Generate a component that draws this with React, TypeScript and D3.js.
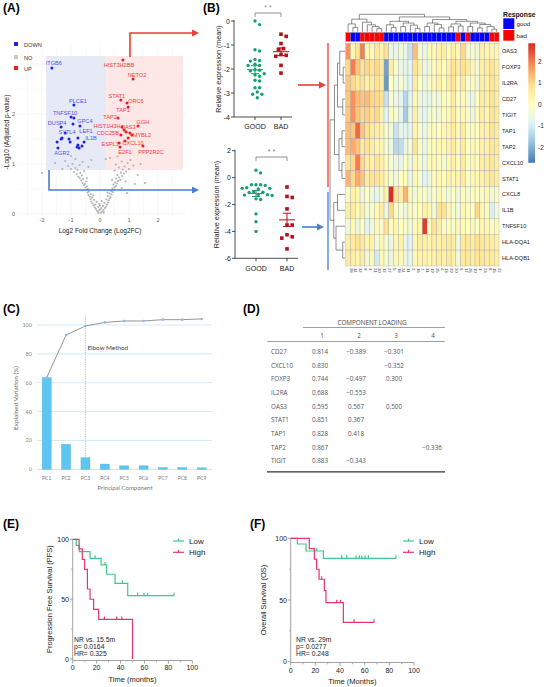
import React from "react";
import * as d3 from "d3";

const SANS = "'Liberation Sans', Arial, Helvetica, sans-serif";
const OPEN = "'Open Sans', 'Liberation Sans', sans-serif";
const LATO = "Lato, 'Open Sans', sans-serif";

// ---------------- (A) volcano plot data ----------------
const downGenes = ["ITGB6", "PLCE1", "TNFSF10", "GPC4", "DUSP4", "SYTL4", "LEF1", "IL1B", "AGR2"];
const downFC = [-1.66, -0.9, -1.0, -0.9, -1.34, -0.93, -0.69, -0.55, -1.45];
const downP = [2.92, 2.18, 1.94, 1.92, 1.74, 1.8, 1.76, 1.44, 1.32];
const downOtherFC = [-1.48, -1.34, -1.31, -1.07, -1.03, -0.76, -0.72, -0.62, -0.76, -0.79, -1.2];
const downOtherP = [1.44, 1.5, 1.52, 1.5, 1.44, 1.38, 1.32, 1.36, 1.52, 1.34, 1.62];

const upGenes = ["HIST3H2BB", "NETO2", "STAT1", "ORC6", "TAP1", "TAP2", "HIST1H3H", "GGH", "OAS3", "MYBL2", "CDC25B", "CXCL10", "ESPL1", "E2F1", "PPP2R2C"];
const upFC = [0.79, 1.14, 0.72, 0.93, 0.97, 0.62, 0.76, 1.31, 0.9, 1.1, 0.72, 0.97, 0.66, 0.69, 1.48];
const upP = [3.08, 2.7, 2.28, 2.22, 2.14, 1.92, 1.74, 1.76, 1.64, 1.58, 1.58, 1.52, 1.42, 1.34, 1.36];
const upOtherFC = [0.83, 1.03, 0.86];
const upOtherP = [1.68, 1.62, 1.46];

const noPoints: [number, number][] = [
  [-0.05, 0.02], [0.03, 0.03], [0.08, 0.05], [-0.1, 0.06], [0.12, 0.08], [-0.14, 0.1], [0.02, 0.1], [0.17, 0.12],
  [-0.18, 0.13], [-0.06, 0.14], [0.2, 0.15], [0.1, 0.16], [-0.22, 0.17], [0.24, 0.19], [-0.02, 0.2], [-0.26, 0.21],
  [0.15, 0.22], [0.28, 0.23], [-0.12, 0.24], [-0.3, 0.25], [0.06, 0.26], [0.3, 0.27], [-0.2, 0.28], [0.22, 0.29],
  [-0.33, 0.3], [0.34, 0.31], [-0.08, 0.05], [0.05, 0.12], [-0.03, 0.08], [0.0, 0.17], [0.13, 0.03], [-0.16, 0.19],
  [-0.28, 0.33], [0.36, 0.34], [-0.36, 0.35], [0.27, 0.36], [-0.4, 0.38], [0.4, 0.39], [-0.32, 0.4], [0.33, 0.41],
  [-0.43, 0.43], [0.44, 0.44], [-0.38, 0.45], [0.38, 0.46], [-0.47, 0.48], [0.48, 0.49], [-0.42, 0.5], [0.43, 0.51],
  [-0.5, 0.53], [0.5, 0.54], [-0.45, 0.55], [0.55, 0.56], [-0.55, 0.58], [0.46, 0.59], [-0.24, 0.37], [0.26, 0.43],
  [-0.52, 0.6], [0.58, 0.61], [-0.6, 0.62], [0.52, 0.63], [-0.48, 0.65], [0.62, 0.66], [-0.65, 0.67], [0.7, 0.68],
  [-0.58, 0.7], [0.56, 0.71], [-0.7, 0.72], [0.66, 0.73], [-0.75, 0.75], [0.76, 0.76], [-0.62, 0.77], [0.6, 0.78],
  [-0.8, 0.8], [0.82, 0.81], [-0.68, 0.82], [0.72, 0.83], [-0.9, 0.84], [0.9, 0.85], [-0.55, 0.86], [0.5, 0.87],
  [-0.78, 0.88], [0.78, 0.89], [-1.0, 0.9], [1.0, 0.9], [-0.85, 0.92], [0.65, 0.93], [-0.4, 0.94], [0.85, 0.95],
  [-1.1, 0.96], [1.15, 0.97], [-0.7, 0.98], [0.55, 0.99], [-0.95, 1.0], [0.95, 1.02], [-0.6, 1.04], [0.75, 1.05],
  [-1.2, 1.06], [1.05, 1.08], [-0.85, 1.1], [0.35, 1.12], [-0.3, 1.08], [0.6, 1.15], [-1.0, 1.16], [0.2, 1.1],
  [-2.0, 0.82], [1.2, 0.6], [1.55, 0.62], [0.93, 0.42], [0.75, 0.52], [-1.3, 0.9], [1.3, 0.78], [-0.45, 0.72],
  [0.42, 0.68], [-1.55, 1.02], [1.4, 1.0], [0.88, 0.65],
];

const labelNudge: Record<string, [number, number]> = {
  ITGB6: [2, -5], PLCE1: [4, -4], TNFSF10: [-6, -4], GPC4: [11, 3], DUSP4: [-4, -4], SYTL4: [-6, 8],
  LEF1: [6, 5], IL1B: [7, -4], AGR2: [4, 5], HIST3H2BB: [-4, 5], NETO2: [4, -4], STAT1: [-4, -4],
  ORC6: [9, -2], TAP1: [-5, 3], TAP2: [-8, -1], HIST1H3H: [-15, -1], GGH: [5, -4], OAS3: [2, -5],
  MYBL2: [10, 0], CDC25B: [-13, -2], CXCL10: [5, 5], ESPL1: [-9, 1], E2F1: [5, 5], PPP2R2C: [8, 6],
};

// ---------------- (B) dot plots ----------------
const groups = ["GOOD", "BAD"];
const upGoodValues = [0.0, -0.15, -1.2, -1.25, -1.65, -1.6, -1.67, -1.85, -1.8, -1.85, -2.05, -2.03, -2.08, -2.25, -2.2, -2.3, -2.47, -2.5, -2.78, -2.78, -2.96, -3.05, -3.05, -3.2];
const upBadValues = [-0.55, -0.64, -0.94, -1.15, -1.19, -1.4, -1.43, -1.47, -1.85, -2.17];
const downGoodValues = [0.55, 0.35, -0.53, -0.53, -0.58, -0.53, -0.8, -0.8, -0.85, -0.75, -1.08, -1.1, -1.05, -1.28, -1.33, -1.3, -1.25, -1.58, -1.63, -2.7, -3.28, -4.0];
const downBadValues = [-0.7, -1.4, -1.48, -2.33, -3.53, -3.53, -4.25, -4.5, -4.4, -5.3];

// ---------------- heatmap ----------------
const heatGenes = ["OAS3", "FOXP3", "IL2RA", "CD27", "TIGIT", "TAP1", "TAP2", "CXCL10", "STAT1", "CXCL8", "IL1B", "TNFSF10", "HLA-DQA1", "HLA-DQB1"];
const sampleIds = ["28", "14", "32", "9", "3", "21", "30", "12", "27", "5", "18", "24", "11", "2", "16", "7", "31", "19", "25", "4", "13", "29", "20", "6", "17", "26", "10", "1", "23", "8", "15", "22"];
const sampleResponse = ["bad", "good", "good", "bad", "bad", "bad", "bad", "bad",
  "good", "good", "good", "good", "good", "good", "good", "good",
  "good", "good", "good", "good", "good", "good", "good", "bad",
  "good", "bad", "good", "good", "good", "good", "bad", "bad"];
const heatValues = [
  [1.8, 0.3, 0.8, 2.0, 0.2, 0.2, 0.7, 0.3, 0.9, -0.6, -0.7, -0.4, -0.6, -1.2, 1.3, -0.3, -0.6, 0.1, 0.2, 0.4, 0.5, 0.1, 0.4, 0.2, 1.0, -0.4, -0.2, -0.5, 0.4, 0.2, 0.3, 0.2],
  [1.0, 2.0, 1.2, 0.8, 1.0, 0.8, 1.0, 0.6, -2.2, 0.5, -0.2, -0.6, -0.8, -0.7, 0.8, 0.4, -0.6, -0.4, 0.1, 0.3, 0.1, 0.4, 0.8, 0.6, 0.9, 0.6, 0.2, -0.4, 0.5, 0.5, 0.8, 0.5],
  [1.2, 1.0, 0.6, 0.8, 0.4, 0.5, 0.9, 0.5, -2.3, 0.0, -0.5, -0.3, -0.6, -0.9, 0.5, 0.0, -0.5, -0.2, 0.2, 0.4, 0.1, 0.5, 0.8, 0.2, 0.6, -0.3, 0.1, -0.5, 0.5, 0.4, 0.8, 0.6],
  [1.2, 1.8, 1.3, 1.2, 1.3, 1.0, 1.0, 0.8, -1.2, -0.3, -0.6, -0.8, -1.4, -0.8, 0.2, -0.5, -0.6, -0.7, -0.3, -0.5, 0.1, 0.1, 0.5, -0.1, 0.2, -0.4, -0.6, 0.0, 0.5, 0.4, 0.8, 0.5],
  [1.2, 1.8, 1.2, 1.0, 1.1, 0.9, 1.0, 0.3, -0.8, -0.2, -0.2, -0.7, -1.6, -0.6, 0.4, -0.5, -0.8, -0.3, -0.2, -0.4, 0.1, 0.2, 0.5, 0.1, 0.2, -0.2, -0.5, 0.1, 0.5, 0.3, 0.8, 0.6],
  [1.3, 1.2, 2.2, 1.2, 0.9, 0.6, 0.5, 0.3, -0.2, -0.4, -1.2, -0.7, -0.8, -0.7, 0.3, -0.3, -0.6, -0.2, 0.1, 0.0, 0.2, 0.3, 0.5, 0.2, 0.6, -0.2, 0.1, -0.1, 0.4, 0.4, 0.8, 0.5],
  [1.3, 1.5, 1.2, 0.6, 0.8, 0.5, 0.3, 0.2, -0.3, -0.5, -1.4, -1.3, -0.6, -0.3, 0.8, -0.2, -0.6, -0.1, 0.1, 0.2, 0.2, 0.4, 0.5, 0.2, 0.6, 0.0, 0.2, 0.1, 0.4, 0.4, 0.7, 0.6],
  [0.8, 1.0, 2.0, 1.0, 0.5, 0.4, 0.8, 0.4, 0.1, -0.3, -0.6, -0.7, 0.0, -0.5, 0.2, -0.2, -0.6, 0.1, 0.2, 0.1, -0.4, 0.2, 0.4, 0.1, 0.6, -0.1, 0.2, 0.0, 0.5, 0.5, 0.7, 0.5],
  [1.4, 1.0, 1.5, 1.2, 0.5, 0.8, 0.8, 0.5, 0.2, -0.2, -0.5, 0.0, 0.1, -0.6, 0.2, -0.3, -0.9, -0.5, 0.1, 0.2, 0.1, 0.4, 0.2, 0.3, 0.6, -0.1, 0.2, 0.2, 0.4, 0.5, 0.7, 0.5],
  [-0.2, 0.4, 0.3, -0.5, 0.0, -0.6, -0.7, -0.3, 0.4, 2.8, 0.8, 0.5, 1.4, 0.1, -0.4, 0.1, -0.2, -0.5, -0.1, 0.2, -0.2, -0.4, 0.0, -0.5, 0.1, -0.4, 0.1, 0.0, -0.2, 0.2, -0.5, -0.2],
  [0.5, 0.6, 0.2, 0.4, -0.4, -0.2, 0.2, 0.5, -0.6, 1.0, -0.2, -0.3, -0.5, 0.1, -0.2, 0.1, 0.4, 0.2, -0.4, 0.9, 0.9, 0.2, -0.2, -0.4, 0.2, 0.1, 0.0, 1.0, 0.2, 0.1, -1.0, -0.5],
  [-0.4, 0.2, -0.6, 0.0, -0.8, -0.5, 0.2, -0.3, 0.9, 0.1, 0.3, 0.0, -0.2, -0.4, 0.1, 0.3, 2.6, -0.1, 0.8, 0.5, -0.2, 0.1, -0.2, 0.2, 0.1, 0.0, 0.2, -0.2, 0.3, 0.2, -0.2, 0.1],
  [0.5, 0.6, 0.8, 0.6, 0.3, 0.4, -0.4, 0.2, -0.2, -0.6, 0.3, 0.4, -0.7, -0.9, 0.2, 0.5, 0.4, 0.3, 0.5, 0.4, 0.5, 0.6, 0.5, -0.5, 0.6, 0.7, 0.5, 0.8, 0.7, 0.6, 0.5, 0.4],
  [0.6, 0.5, 0.3, 0.5, -0.5, 0.2, -1.1, 0.2, -0.2, -0.6, 0.2, 0.2, -0.6, -0.7, 0.2, 0.4, 0.4, 0.2, 0.4, 0.5, 0.4, 0.6, 0.4, -0.4, 0.6, 0.7, 0.5, 0.7, 0.7, 0.6, 0.6, 0.5],
];
type Tree = number | [number, Tree, Tree];
const sampleTree: Tree = [1.0,
  [0.72, [0.45, 0, [0.25, 1, 2]], [0.55, 3, [0.4, 4, [0.3, 5, [0.18, 6, 7]]]]],
  [0.85,
    [0.6, [0.4, 8, [0.25, 9, 10]], [0.5, [0.3, 11, 12], [0.38, 13, [0.2, 14, 15]]]],
    [0.7, [0.5, [0.3, 16, 17], [0.42, 18, [0.22, 19, 20]]],
      [0.6, [0.45, [0.28, 21, 22], [0.33, 23, 24]], [0.5, [0.3, 25, 26], [0.42, [0.22, 27, 28], [0.3, 29, [0.15, 30, 31]]]]]]]];
const geneTree: Tree = [1.0,
  [0.7, [0.5, [0.35, 0, [0.12, 1, 2]], [0.15, 3, 4]], [0.4, [0.2, 5, 6], [0.2, 7, 8]]],
  [0.75, [0.5, 9, 10], [0.6, 11, [0.15, 12, 13]]]];
const legendTicks = [2, 1, 0, -1, -2];

// ---------------- (C) scree plot ----------------
const pcLabels = ["PC1", "PC2", "PC3", "PC4", "PC5", "PC6", "PC7", "PC8", "PC9"];
const pcVariance = [63.5, 17.3, 8.0, 3.6, 2.4, 2.4, 1.2, 1.2, 1.0];
const pcCumulative = [63.5, 93.1, 99.3, 101.8, 102.8, 102.8, 103.7, 103.7, 104.2];
const pcTicks = [0, 20, 40, 60, 80, 100];

// ---------------- (D) loadings ----------------
const loadingGenes = ["CD27", "CXCL10", "FOXP3", "IL2RA", "OAS3", "STAT1", "TAP1", "TAP2", "TIGIT"];
const loading1 = ["0.814", "0.830", "0.744", "0.688", "0.595", "0.851", "0.828", "0.867", "0.883"];
const loading2 = ["\u22120.389", "", "\u22120.497", "\u22120.553", "0.567", "0.367", "0.418", "", "\u22120.343"];
const loading3 = ["\u22120.301", "\u22120.352", "0.300", "", "0.500", "", "", "", ""];
const loading4 = ["", "", "", "", "", "", "", "\u22120.336", ""];

// ---------------- (E)/(F) survival ----------------
const pfsLow: [number, number][] = [[0, 100], [3, 95], [5.5, 89.7], [14.5, 84.1], [23.7, 78.6], [28.4, 70.8], [35.4, 63.2], [46, 52.9]];
const pfsLowEnd = 84.7;
const pfsLowCensor = [18.7, 27, 41.5, 54.3, 59.6, 62.7];
const pfsHigh: [number, number][] = [[0, 100], [5.3, 92], [8, 83.3], [10, 74.9], [12.3, 58.5], [14.5, 49.9], [17.5, 41.5], [21.7, 33.1], [50, 0]];
const pfsHighEnd = 50;
const pfsHighCensor = [26.5, 36.8, 41];
const osLow: [number, number][] = [[0, 100], [5.4, 95.4], [12.4, 89.7], [26.5, 83.8]];
const osLowEnd = 85.4;
const osLowCensor = [21.1, 41.4, 45.4, 53, 55.7, 57.6, 60.3, 63];
const osHigh: [number, number][] = [[0, 100], [15.1, 91.6], [19.2, 83.2], [21, 74.9], [23, 66.8], [27.3, 57.6], [28.6, 47.8], [42.7, 31.9]];
const osHighEnd = 67.6;
const osHighCensor = [25.1, 37.3, 40.5, 51.4];
const timeTicks = [0, 20, 40, 60, 80, 100];
const survTicks = [0, 50, 100];

// ---------------- helpers ----------------
const BLUE = "#2222e6";
const RED = "#ee1c1c";
const GREEN_DOT = "#16a06c";
const BAD_RED = "#b3131b";
const LOW_C = "#3cc98b";
const HIGH_C = "#e8366c";

function dodge(values: number[], y: (v: number) => number, d: number): number[] {
  const placed: { x: number; y: number }[] = [];
  const order = values.map((_, i) => i).sort((a, b) => values[b] - values[a]);
  const out = new Array(values.length).fill(0);
  for (const i of order) {
    const py = y(values[i]);
    let best = 0;
    for (let k = 0; k < 60; k++) {
      const cand = k === 0 ? 0 : (k % 2 ? 1 : -1) * Math.ceil(k / 2) * d * 0.5;
      if (placed.every((p) => (p.x - cand) ** 2 + (p.y - py) ** 2 >= d * d)) { best = cand; break; }
    }
    placed.push({ x: best, y: py });
    out[i] = best;
  }
  return out;
}

function Arrow({ pts, color }: { pts: [number, number][]; color: string }) {
  const last = pts[pts.length - 1];
  const prev = pts[pts.length - 2];
  const ang = Math.atan2(last[1] - prev[1], last[0] - prev[0]);
  const L = 7, W = 3.5;
  const bx = last[0] - L * Math.cos(ang), by = last[1] - L * Math.sin(ang);
  const head = [
    [last[0], last[1]],
    [bx - W * Math.sin(ang), by + W * Math.cos(ang)],
    [bx + W * Math.sin(ang), by - W * Math.cos(ang)],
  ];
  const line = pts.slice(0, -1).concat([[bx, by]]);
  return (
    <g>
      <polyline points={line.map((p) => p.join(",")).join(" ")} fill="none" stroke={color} strokeWidth={1.6} />
      <polygon points={head.map((p) => p.join(",")).join(" ")} fill={color} />
    </g>
  );
}

// ---------------- (A) ----------------
function Volcano() {
  const x = d3.scaleLinear().domain([-3, 3]).range([13, 187]);
  const y = d3.scaleLinear().domain([0, 3]).range([214, 64]);
  const gridY = d3.range(0, 3.01, 0.5);
  const gridX = d3.range(-2.5, 2.51, 0.5);
  return (
    <g fontFamily={SANS}>
      <text x={3} y={12} fontSize={12} fontWeight="bold">(A)</text>
      {gridX.map((v) => (
        <line key={"gx" + v} x1={x(v)} x2={x(v)} y1={46} y2={216} stroke={Number.isInteger(v) ? "#ececec" : "#f5f5f5"} strokeWidth={0.6} />
      ))}
      {gridY.map((v) => (
        <line key={"gy" + v} x1={17} x2={186} y1={y(v)} y2={y(v)} stroke={Number.isInteger(v) ? "#ececec" : "#f5f5f5"} strokeWidth={0.6} />
      ))}
      <rect x={x(-1.86)} y={56} width={x(0.21) - x(-1.86)} height={114} fill="#e3e8f6" opacity={0.9} />
      <rect x={x(0.21)} y={56} width={x(2.86) - x(0.21)} height={114} fill="#fde4e4" opacity={0.9} />
      {noPoints.map(([f, p], i) => (
        <circle key={"n" + i} cx={x(f)} cy={y(p)} r={1.1} fill="#b4b4b4" />
      ))}
      {downOtherFC.map((f, i) => (
        <circle key={"do" + i} cx={x(f)} cy={y(downOtherP[i])} r={1.5} fill={BLUE} />
      ))}
      {upOtherFC.map((f, i) => (
        <circle key={"uo" + i} cx={x(f)} cy={y(upOtherP[i])} r={1.5} fill={RED} />
      ))}
      {downGenes.map((g, i) => (
        <g key={g}>
          <circle cx={x(downFC[i])} cy={y(downP[i])} r={1.5} fill={BLUE} />
          <text x={x(downFC[i]) + labelNudge[g][0]} y={y(downP[i]) + labelNudge[g][1] + 2} fontSize={5.6} fill="#5050ee" textAnchor="middle">{g}</text>
        </g>
      ))}
      {upGenes.map((g, i) => (
        <g key={g}>
          <circle cx={x(upFC[i])} cy={y(upP[i])} r={1.5} fill={RED} />
          <text x={x(upFC[i]) + labelNudge[g][0]} y={y(upP[i]) + labelNudge[g][1] + 2} fontSize={5.6} fill="#f03c3c" textAnchor="middle">{g}</text>
        </g>
      ))}
      {[0, 1, 2].map((v) => (
        <text key={"yt" + v} x={15} y={y(v) + 2} fontSize={5.5} fill="#555" textAnchor="end">{v}</text>
      ))}
      {[-2, -1, 0, 1, 2].map((v) => (
        <text key={"xt" + v} x={x(v)} y={222} fontSize={5.5} fill="#555" textAnchor="middle">{v}</text>
      ))}
      <text x={100} y={233} fontSize={6.5} fill="#222" textAnchor="middle">Log2 Fold Change (Log2FC)</text>
      <text transform="translate(8.5,132) rotate(-90)" fontSize={6.5} fill="#222" textAnchor="middle">-Log10 (Adjusted p-value)</text>
      {/* legend */}
      <rect x={14} y={42} width={4} height={4} fill={BLUE} />
      <text x={24} y={46.5} fontSize={5.6} fill="#333">DOWN</text>
      <rect x={14} y={55} width={4} height={4} fill="#c8c8c8" />
      <text x={24} y={59.5} fontSize={5.6} fill="#333">NO</text>
      <rect x={14} y={66} width={4} height={4} fill={RED} />
      <text x={24} y={70.5} fontSize={5.6} fill="#333">UP</text>
      <Arrow pts={[[130, 57], [130, 33], [199, 33]]} color="#ee3b3b" />
      <Arrow pts={[[49, 170], [49, 190], [199, 190]]} color="#4a7fd4" />
    </g>
  );
}

// ---------------- (B) dot plots ----------------
function DotPlot({ good, bad, domain, ticks, top, bottom, left, right, bracketY, labelY, titleX }: {
  good: number[]; bad: number[]; domain: [number, number]; ticks: number[];
  top: number; bottom: number; left: number; right: number; bracketY: number; labelY: number; titleX: number;
}) {
  const y = d3.scaleLinear().domain(domain).range([bottom, top]);
  const xb = d3.scalePoint().domain(groups).range([left + 21, right - 11]);
  const gx = xb("GOOD")!, bx = xb("BAD")!;
  const gOff = dodge(good, y, 4.6);
  const bOff = dodge(bad, y, 5.2);
  const stat = (a: number[]) => {
    const m = d3.mean(a)!;
    const se = d3.deviation(a)! / Math.sqrt(a.length);
    return [m, se];
  };
  const [gm, gse] = stat(good);
  const [bm, bse] = stat(bad);
  return (
    <g fontFamily={SANS}>
      <line x1={left} x2={left} y1={y(domain[1]) - 1} y2={bottom} stroke="#222" strokeWidth={0.8} />
      <line x1={left} x2={right} y1={bottom} y2={bottom} stroke="#222" strokeWidth={0.8} />
      {ticks.map((t) => (
        <g key={t}>
          <line x1={left - 3} x2={left} y1={y(t)} y2={y(t)} stroke="#222" strokeWidth={0.8} />
          <text x={left - 4} y={y(t) + 2.5} fontSize={7} textAnchor="end" fill="#222">{t}</text>
        </g>
      ))}
      {groups.map((g) => (
        <g key={g}>
          <line x1={xb(g)!} x2={xb(g)!} y1={bottom} y2={bottom + 3} stroke="#222" strokeWidth={0.8} />
          <text x={xb(g)!} y={labelY} fontSize={7} textAnchor="middle" fill="#222">{g}</text>
        </g>
      ))}
      <text transform={`translate(${titleX},${(top + bottom) / 2}) rotate(-90)`} fontSize={7.2} textAnchor="middle" fill="#222">Relative expression (mean)</text>
      <path d={`M${gx},${bracketY + 4}V${bracketY}H${bx}V${bracketY + 4}`} fill="none" stroke="#777" strokeWidth={0.8} />
      <text x={(gx + bx) / 2} y={bracketY - 3} fontSize={7} textAnchor="middle" fill="#888">* *</text>
      {good.map((v, i) => (
        <circle key={"g" + i} cx={gx + gOff[i]} cy={y(v)} r={1.7} fill={GREEN_DOT} />
      ))}
      {bad.map((v, i) => (
        <rect key={"b" + i} x={bx + bOff[i] - 1.8} y={y(v) - 1.8} width={3.6} height={3.6} fill={BAD_RED} />
      ))}
      {[[gx, gm, gse, GREEN_DOT], [bx, bm, bse, BAD_RED]].map(([cx, m, se, c], i) => (
        <g key={"m" + i} stroke={c as string} strokeWidth={1}>
          <line x1={(cx as number) - 8} x2={(cx as number) + 8} y1={y(m as number)} y2={y(m as number)} />
          <line x1={cx as number} x2={cx as number} y1={y((m as number) + (se as number))} y2={y((m as number) - (se as number))} />
          <line x1={(cx as number) - 4} x2={(cx as number) + 4} y1={y((m as number) + (se as number))} y2={y((m as number) + (se as number))} />
          <line x1={(cx as number) - 4} x2={(cx as number) + 4} y1={y((m as number) - (se as number))} y2={y((m as number) - (se as number))} />
        </g>
      ))}
    </g>
  );
}

// ---------------- heatmap ----------------
function dendroSegments(t: Tree, pos: (i: number) => number, hmap: (h: number) => number) {
  const segs: [number, number, number, number][] = [];
  const walk = (n: Tree): { p: number; h: number } => {
    if (typeof n === "number") return { p: pos(n), h: 0 };
    const a = walk(n[1]);
    const b = walk(n[2]);
    segs.push([a.p, hmap(a.h), a.p, hmap(n[0])]);
    segs.push([b.p, hmap(b.h), b.p, hmap(n[0])]);
    segs.push([a.p, hmap(n[0]), b.p, hmap(n[0])]);
    return { p: (a.p + b.p) / 2, h: n[0] };
  };
  walk(t);
  return segs;
}

function Heatmap() {
  const x0 = 345.7, x1 = 499, y0 = 43.3, y1 = 266;
  const nC = sampleIds.length, nR = heatGenes.length;
  const xs = d3.scaleBand<number>().domain(d3.range(nC)).range([x0, x1]);
  const ys = d3.scaleBand<number>().domain(d3.range(nR)).range([y0, y1]);
  const pal = ["#4575b4", "#91bfdb", "#e0f3f8", "#ffffbf", "#fee090", "#fc8d59", "#d73027"];
  const color = d3.scaleLinear<string>().domain(d3.range(7).map((i) => -2.75 + i * (5.5 / 6))).range(pal).clamp(true);
  const colSegs = dendroSegments(sampleTree, (i) => xs(i)! + xs.bandwidth() / 2, (h) => 31.8 - h * 17.5);
  const rowSegs = dendroSegments(geneTree, (i) => ys(i)! + ys.bandwidth() / 2, (h) => 345 - h * 15);
  const lgY = d3.scaleLinear().domain([0, 1]).range([104.3, 82.8]);
  const stops = d3.range(0, 1.001, 0.05);
  const vTop = 2.84, vBot = -2.72;
  return (
    <g fontFamily={SANS}>
      <defs>
        <linearGradient id="hmLegend" x1="0" y1="0" x2="0" y2="1">
          {stops.map((s) => (
            <stop key={s} offset={s} stopColor={color(vTop + (vBot - vTop) * s)} />
          ))}
        </linearGradient>
      </defs>
      {colSegs.map((s, i) => (
        <line key={"cs" + i} x1={s[0]} y1={s[1]} x2={s[2]} y2={s[3]} stroke="#444" strokeWidth={0.6} />
      ))}
      {rowSegs.map((s, i) => (
        <line key={"rs" + i} x1={s[1]} y1={s[0]} x2={s[3]} y2={s[2]} stroke="#444" strokeWidth={0.6} />
      ))}
      {sampleResponse.map((r, j) => (
        <rect key={"an" + j} x={xs(j)!} y={32.5} width={xs.bandwidth()} height={9} fill={r === "good" ? "#0000ff" : "#ff0000"} stroke="#999" strokeWidth={0.3} />
      ))}
      {heatValues.map((row, i) =>
        row.map((v, j) => (
          <rect key={i + "-" + j} x={xs(j)!} y={ys(i)!} width={xs.bandwidth()} height={ys.bandwidth()} fill={color(v)} stroke="#a0a0a0" strokeWidth={0.35} />
        ))
      )}
      {heatGenes.map((g, i) => (
        <text key={g} x={502} y={ys(i)! + ys.bandwidth() / 2 + 2} fontSize={5.6} fill="#222">{g}</text>
      ))}
      {sampleIds.map((s, j) => (
        <text key={"sl" + j} transform={`translate(${xs(j)! + xs.bandwidth() / 2 + 1.5},268) rotate(90)`} fontSize={4.2} fill="#333">{s}</text>
      ))}
      <text x={503} y={16.5} fontSize={6.8} fontWeight="bold" fill="#111">Response</text>
      <rect x={503.3} y={18.3} width={11} height={10.7} fill="#0000ff" />
      <text x={516.5} y={26} fontSize={6.2} fill="#222">good</text>
      <rect x={503.3} y={30} width={11} height={10.7} fill="#ff0000" />
      <text x={516.5} y={37.5} fontSize={6.2} fill="#222">bad</text>
      <rect x={528.3} y={lgY(vTop)} width={6.7} height={lgY(vBot) - lgY(vTop)} fill="url(#hmLegend)" />
      {legendTicks.map((t) => (
        <text key={"lt" + t} x={538} y={lgY(t) + 2.3} fontSize={6.5} fill="#222">{t}</text>
      ))}
      {/* links from the dot plots */}
      <line x1={328} x2={328} y1={43} y2={187} stroke="#ee3b3b" strokeWidth={1.3} />
      <line x1={328} x2={328} y1={192} y2={270} stroke="#4a7fd4" strokeWidth={1.3} />
      <Arrow pts={[[298, 85], [326, 85]]} color="#ee3b3b" />
      <Arrow pts={[[302, 227], [324, 227]]} color="#4a7fd4" />
    </g>
  );
}

// ---------------- (C) ----------------
function Scree() {
  const x = d3.scalePoint().domain(pcLabels).range([46.7, 201.7]);
  const y = d3.scaleLinear().domain([0, 100]).range([469.3, 325]);
  const line = d3.line<number>().x((_, i) => x(pcLabels[i])!).y((d) => y(d));
  return (
    <g>
      <text x={3} y={313} fontSize={12} fontWeight="bold" fontFamily={SANS}>(C)</text>
      <g fontFamily={LATO}>
        {pcTicks.filter((t) => t > 0).map((t) => (
          <line key={"g" + t} x1={37} x2={212} y1={y(t)} y2={y(t)} stroke="#cde9f6" strokeWidth={0.9} />
        ))}
        <line x1={37} x2={212} y1={y(0)} y2={y(0)} stroke="#d9d9d9" strokeWidth={0.9} />
        {pcTicks.map((t) => (
          <text key={"t" + t} x={32} y={y(t) + 2} fontSize={5.5} fill="#888" textAnchor="end">{t}</text>
        ))}
        {pcVariance.map((v, i) => (
          <rect key={"b" + i} x={x(pcLabels[i])! - 4.5} y={y(v)} width={9} height={y(0) - y(v)} fill="#5cc5f0" stroke="#4ab3e3" strokeWidth={0.4} />
        ))}
        <line x1={x("PC3")!} x2={x("PC3")!} y1={316} y2={y(0)} stroke="#72c2e8" strokeWidth={0.8} strokeDasharray="1.2,1.2" />
        <text x={87.5} y={350} fontSize={6.3} fill="#444">Elbow Method</text>
        <path d={line(pcCumulative) || ""} fill="none" stroke="#8a8a8a" strokeWidth={0.9} />
        {pcCumulative.map((v, i) => (
          <circle key={"c" + i} cx={x(pcLabels[i])!} cy={y(v)} r={1.3} fill="#93b9f2" />
        ))}
        {pcLabels.map((l) => (
          <text key={l} x={x(l)!} y={479.5} fontSize={5} fill="#777" textAnchor="middle">{l}</text>
        ))}
        <text x={125} y={490} fontSize={6} fill="#777" textAnchor="middle">Principal Component</text>
        <text transform="translate(18,398) rotate(-90)" fontSize={6.4} fill="#666" textAnchor="middle">Explained Variation (%)</text>
      </g>
    </g>
  );
}

// ---------------- (D) ----------------
function Loadings() {
  const rowY = d3.scalePoint().domain(loadingGenes).range([351.7, 461]);
  const cols = [loading1, loading2, loading3, loading4];
  const colX = [320, 356, 394, 432];
  const headX = [322, 359, 396, 433];
  return (
    <g>
      <text x={243} y={313} fontSize={12} fontWeight="bold" fontFamily={SANS}>(D)</text>
      <g fontFamily={OPEN} fill="#555" fontSize={6.3}>
        <text x={372} y={325} textAnchor="middle" fill="#444">COMPONENT LOADING</text>
        <line x1={303} x2={445} y1={327.5} y2={327.5} stroke="#777" strokeWidth={0.7} />
        {headX.map((hx, i) => (
          <text key={"h" + i} x={hx} y={337.5} textAnchor="middle">{i + 1}</text>
        ))}
        <line x1={267} x2={445} y1={341.5} y2={341.5} stroke="#777" strokeWidth={0.7} />
        {loadingGenes.map((g, r) => (
          <g key={g}>
            <text x={271} y={rowY(g)! + 2.2}>{g}</text>
            {cols.map((c, ci) => c[r] ? (
              <text key={ci} x={colX[ci]} y={rowY(g)! + 2.2} textAnchor="middle">{c[r]}</text>
            ) : null)}
          </g>
        ))}
        <line x1={267} x2={445} y1={471.8} y2={471.8} stroke="#333" strokeWidth={1.3} />
      </g>
    </g>
  );
}

// ---------------- (E)/(F) Kaplan–Meier ----------------
function survAt(steps: [number, number][], t: number) {
  let s = steps[0][1];
  for (const [tt, v] of steps) if (tt <= t) s = v;
  return s;
}

function KM({ label, lx, ly, xr, yr, axisY, tickLabelY, yTickX, yTitle, yTitleX, xTitle, xTitleY, low, lowEnd, lowCens, high, highEnd, highCens, legX, legTextX, notes, noteX }: any) {
  const x = d3.scaleLinear().domain([0, 100]).range(xr);
  const y = d3.scaleLinear().domain([0, 100]).range(yr);
  const stepLine = d3.line<[number, number]>().x((d) => x(d[0])).y((d) => y(d[1])).curve(d3.curveStepAfter);
  const curve = (steps: [number, number][], end: number, cens: number[], c: string) => {
    const pts = steps.concat([[end, steps[steps.length - 1][1]]]);
    return (
      <g stroke={c} strokeWidth={1.2} fill="none">
        <path d={stepLine(pts) || ""} />
        {cens.concat([end]).map((t, i) => (
          <line key={i} x1={x(t)} x2={x(t)} y1={y(survAt(steps, t))} y2={y(survAt(steps, t)) - 3} />
        ))}
      </g>
    );
  };
  return (
    <g fontFamily={SANS}>
      <text x={lx} y={ly} fontSize={12} fontWeight="bold">{label}</text>
      <line x1={xr[0]} x2={xr[0]} y1={yr[1]} y2={axisY} stroke="#999" strokeWidth={0.9} />
      <line x1={xr[0]} x2={xr[1]} y1={axisY} y2={axisY} stroke="#999" strokeWidth={0.9} />
      {survTicks.map((t) => (
        <g key={"s" + t}>
          <line x1={xr[0] - 3} x2={xr[0]} y1={y(t)} y2={y(t)} stroke="#999" strokeWidth={0.9} />
          <text x={yTickX} y={y(t) + 2.5} fontSize={7} textAnchor="end" fill="#222">{t}</text>
        </g>
      ))}
      {[25, 75].map((t) => (
        <line key={"m" + t} x1={xr[0] - 1.8} x2={xr[0]} y1={y(t)} y2={y(t)} stroke="#999" strokeWidth={0.8} />
      ))}
      {timeTicks.map((t) => (
        <g key={"t" + t}>
          <line x1={x(t)} x2={x(t)} y1={axisY} y2={axisY + 3} stroke="#999" strokeWidth={0.9} />
          <text x={x(t)} y={tickLabelY} fontSize={7} textAnchor="middle" fill="#222">{t}</text>
        </g>
      ))}
      {[10, 30, 50, 70, 90].map((t) => (
        <line key={"mt" + t} x1={x(t)} x2={x(t)} y1={axisY} y2={axisY + 1.8} stroke="#999" strokeWidth={0.8} />
      ))}
      <text x={(xr[0] + xr[1]) / 2} y={xTitleY} fontSize={7.5} textAnchor="middle" fill="#222">{xTitle}</text>
      <text transform={`translate(${yTitleX},${(yr[0] + yr[1]) / 2}) rotate(-90)`} fontSize={7.5} textAnchor="middle" fill="#222">{yTitle}</text>
      {curve(low, lowEnd, lowCens, LOW_C)}
      {curve(high, highEnd, highCens, HIGH_C)}
      <g strokeWidth={1.2}>
        <line x1={legX} x2={legX + 11} y1={541} y2={541} stroke={LOW_C} />
        <line x1={legX + 5.5} x2={legX + 5.5} y1={541} y2={538.5} stroke={LOW_C} />
        <line x1={legX} x2={legX + 11} y1={552.3} y2={552.3} stroke={HIGH_C} />
        <line x1={legX + 5.5} x2={legX + 5.5} y1={552.3} y2={549.8} stroke={HIGH_C} />
      </g>
      <text x={legTextX} y={544} fontSize={8} fill="#222">Low</text>
      <text x={legTextX} y={555.3} fontSize={8} fill="#222">High</text>
      {notes.map((n: string, i: number) => (
        <text key={i} x={noteX} y={641.5 + i * 7} fontSize={6.8} fill="#222">{n}</text>
      ))}
    </g>
  );
}

export default function App() {
  return (
    <svg width={546} height={687} viewBox="0 0 546 687" style={{ position: "absolute", left: 0, top: 0, background: "#fff" }}>
      <rect width={546} height={687} fill="#fff" />
      <Volcano />
      <text x={203} y={12} fontSize={12} fontWeight="bold" fontFamily={SANS}>(B)</text>
      <DotPlot good={upGoodValues} bad={upBadValues} domain={[-4, 0]} ticks={[0, -1, -2, -3, -4]}
        top={21} bottom={117} left={234} right={292} bracketY={13} labelY={129} titleX={220.5} />
      <DotPlot good={downGoodValues} bad={downBadValues} domain={[-6, 2]} ticks={[2, 0, -2, -4, -6]}
        top={150.7} bottom={258.3} left={235} right={298} bracketY={157} labelY={270.5} titleX={219} />
      <Heatmap />
      <Scree />
      <Loadings />
      <KM label="(E)" lx={3} ly={528} xr={[72.7, 192.3]} yr={[659, 539.3]} axisY={660.5} tickLabelY={670.2}
        yTickX={69} yTitle="Progression Free Survival (PFS)" yTitleX={51.5} xTitle="Time (months)" xTitleY={681.5}
        low={pfsLow} lowEnd={pfsLowEnd} lowCens={pfsLowCensor} high={pfsHigh} highEnd={pfsHighEnd} highCens={pfsHighCensor}
        legX={173} legTextX={189} notes={["NR vs. 15.5m", "p= 0.0164", "HR= 0.325"]} noteX={74} />
      <KM label="(F)" lx={250} ly={528} xr={[290.7, 414]} yr={[661.7, 538.3]} axisY={662.5} tickLabelY={673}
        yTickX={287} yTitle="Overall Survival (OS)" yTitleX={265.5} xTitle="Time (Months)" xTitleY={684}
        low={osLow} lowEnd={osLowEnd} lowCens={osLowCensor} high={osHigh} highEnd={osHighEnd} highCens={osHighCensor}
        legX={403} legTextX={419} notes={["NR vs. 29m", "p= 0.0277", "HR= 0.248"]} noteX={296} />
    </svg>
  );
}
